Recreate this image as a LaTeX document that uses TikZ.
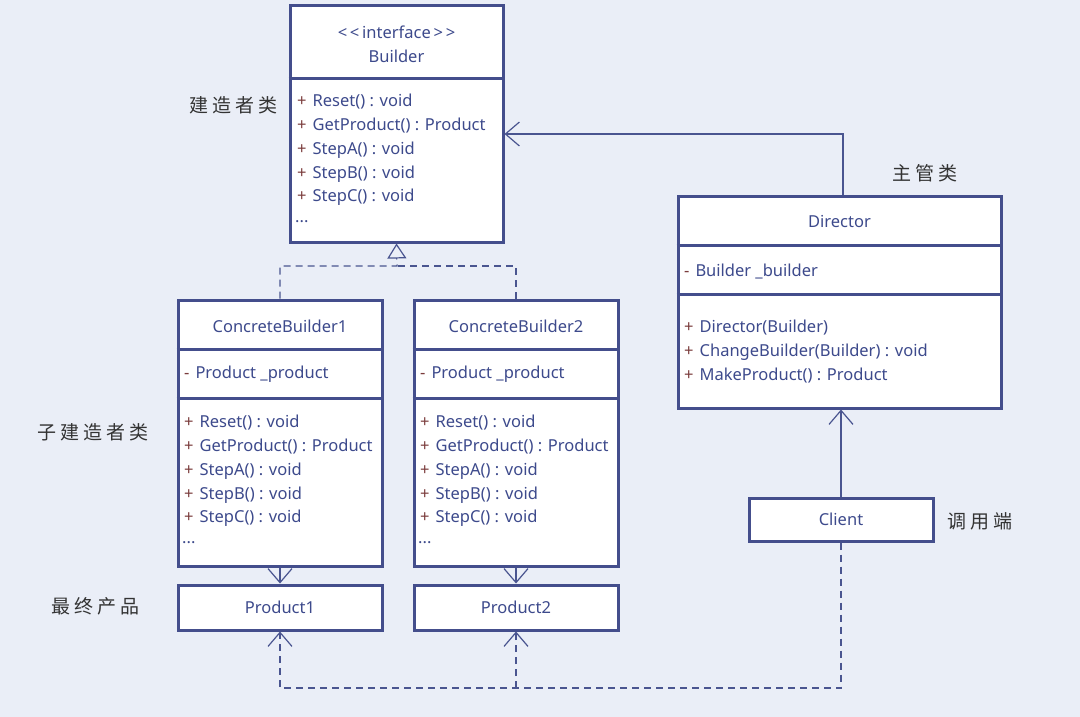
\documentclass[tikz,border=0pt]{standalone}
\usepackage{fontspec}
\setmainfont{Noto Sans}
\newfontfamily\cjk[LetterSpace=22]{Noto Sans CJK SC}
\usetikzlibrary{arrows.meta}
\definecolor{bg}{HTML}{EAEEF7}
\definecolor{boxc}{HTML}{444E8C}
\definecolor{txtc}{HTML}{3D4A8C}
\definecolor{plusc}{HTML}{7A3B3B}
\definecolor{linec}{HTML}{4A5590}
\definecolor{labc}{HTML}{333333}
\tikzset{
  box/.style={draw=boxc, line width=3pt, fill=white, inner sep=0pt},
  divider/.style={draw=boxc, line width=3pt},
  title/.style={text=txtc, font=\fontsize{16.5}{19}\selectfont, inner sep=0pt, anchor=center},
  memtxt/.style={text=txtc, font=\fontsize{16.5}{19}\selectfont, inner sep=0pt, anchor=west},
  lab/.style={text=labc, font=\cjk\fontsize{19}{22}\selectfont, inner sep=0pt, anchor=west},
  conn/.style={draw=linec, line width=1.2pt},
  dconn/.style={draw=linec, line width=1.2pt, dash pattern=on 7pt off 5pt},
  barb/.style={-{Straight Barb[length=14pt,width=24pt,line width=1.2pt]}},
  realize/.style={-{Triangle[open,length=15pt,width=19pt,fill=bg,line width=1.2pt]}},
}
\newcommand\mem[4]{\node[memtxt] (#1) at (#2,#3) {\textcolor{plusc}{+}\hspace{6pt}#4};}
\newcommand\attr[4]{\node[memtxt] (#1) at (#2,#3) {\textcolor{plusc}{-}\hspace{6pt}#4};}
\begin{document}
\begin{tikzpicture}[x=1pt,y=-1pt]
\path[use as bounding box, fill=bg] (0,0) rectangle (1080,717);
% Builder
\node[box, minimum width=213pt, minimum height=236pt] (builder) at (396.5,124) {};
\coordinate (by1) at (0,79);
\draw[divider] (builder.west |- by1) -- (builder.east |- by1);
\node[title] (bst) at (396.5,32) {<\,<\,interface\,>\,>};
\node[title] (bname) at (396.5,56) {Builder};
\mem{b1}{297}{102}{Reset() : void}
\mem{b2}{297}{126}{GetProduct() : Product}
\mem{b3}{297}{150}{StepA() : void}
\mem{b4}{297}{174}{StepB() : void}
\mem{b5}{297}{197}{StepC() : void}
\node[memtxt] (b6) at (295,222) {...};
% ConcreteBuilder1
\node[box, minimum width=204pt, minimum height=266pt] (cb1) at (280,433) {};
\coordinate (cy1) at (0,349);
\coordinate (cy2) at (0,398);
\draw[divider] (cb1.west |- cy1) -- (cb1.east |- cy1);
\draw[divider] (cb1.west |- cy2) -- (cb1.east |- cy2);
\node[title] (cb1n) at (280,326) {ConcreteBuilder1};
\attr{c1a}{184}{374}{Product \_product}
\mem{c11}{184}{423}{Reset() : void}
\mem{c12}{184}{447}{GetProduct() : Product}
\mem{c13}{184}{471}{StepA() : void}
\mem{c14}{184}{495}{StepB() : void}
\mem{c15}{184}{518}{StepC() : void}
\node[memtxt] (c16) at (182,543) {...};
% ConcreteBuilder2
\node[box, minimum width=204pt, minimum height=266pt] (cb2) at (516,433) {};
\draw[divider] (cb2.west |- cy1) -- (cb2.east |- cy1);
\draw[divider] (cb2.west |- cy2) -- (cb2.east |- cy2);
\node[title] (cb2n) at (516,326) {ConcreteBuilder2};
\attr{c2a}{420}{374}{Product \_product}
\mem{c21}{420}{423}{Reset() : void}
\mem{c22}{420}{447}{GetProduct() : Product}
\mem{c23}{420}{471}{StepA() : void}
\mem{c24}{420}{495}{StepB() : void}
\mem{c25}{420}{518}{StepC() : void}
\node[memtxt] (c26) at (418,543) {...};
% Products
\node[box, minimum width=204pt, minimum height=45pt, title] (p1) at (280,607.5) {Product1};
\node[box, minimum width=204pt, minimum height=45pt, title] (p2) at (516,607.5) {Product2};
% Director
\node[box, minimum width=323pt, minimum height=212pt] (dir) at (839.5,302) {};
\coordinate (dy1) at (0,245);
\coordinate (dy2) at (0,294);
\draw[divider] (dir.west |- dy1) -- (dir.east |- dy1);
\draw[divider] (dir.west |- dy2) -- (dir.east |- dy2);
\node[title] (dirn) at (839.5,222) {Director};
\attr{da}{684}{271}{Builder \_builder}
\mem{d1}{684}{328}{Director(Builder)}
\mem{d2}{684}{352}{ChangeBuilder(Builder) : void}
\mem{d3}{684}{376}{MakeProduct() : Product}
% Client
\node[box, minimum width=184pt, minimum height=43pt, title] (client) at (841,519.5) {Client};
% Labels
\node[lab] (l1) at (189,105) {建造者类};
\node[lab] (l2) at (892,173) {主管类};
\node[lab] (l3) at (37,432) {子建造者类};
\node[lab] (l4) at (51,606) {最终产品};
\node[lab] (l5) at (947,521) {调用端};
% Connectors
\coordinate (y134) at (0,134);
\coordinate (dtop) at (843,0);
\draw[conn, barb] (dir.north -| dtop) |- (builder.east |- y134);
\coordinate (rj) at (397,266);
\draw[dconn, realize] (cb1.north) |- (rj) -- (builder.south);
\draw[dconn] (cb2.north) |- (rj);
\draw[conn, barb] (cb1.south) -- (p1.north);
\draw[conn, barb] (cb2.south) -- (p2.north);
\draw[conn, barb] (client.north) -- (dir.south -| client.north);
\coordinate (yb) at (0,688);
\draw[dconn, barb] (client.south) |- (p1.south |- yb) -- (p1.south);
\draw[dconn, barb] (p2.south |- yb) -- (p2.south);
\end{tikzpicture}
\end{document}
